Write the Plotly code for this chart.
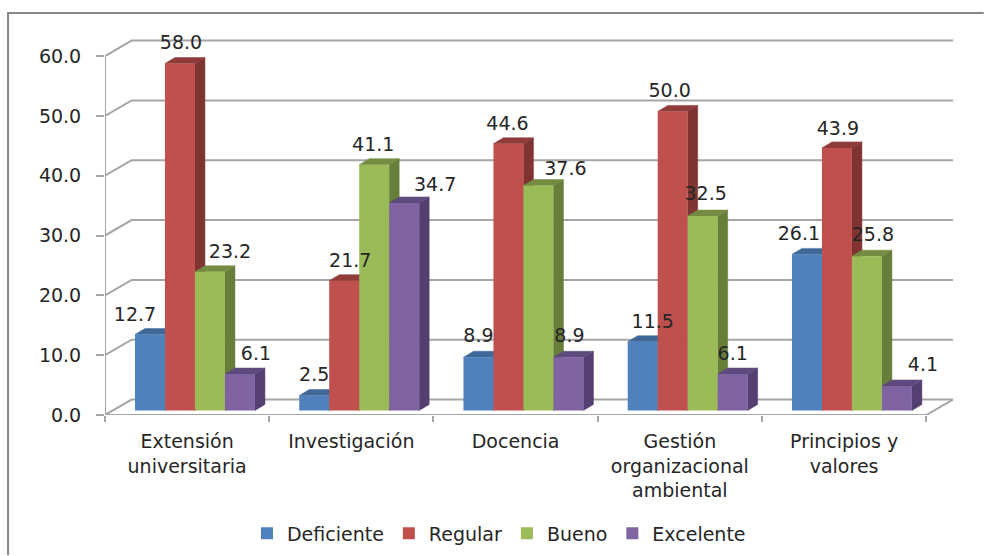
import plotly.graph_objects as go

categories = ["Extensión<br>universitaria", "Investigación", "Docencia",
              "Gestión<br>organizacional<br>ambiental", "Principios y<br>valores"]
deficiente = [12.7, 2.5, 8.9, 11.5, 26.1]
regular = [58.0, 21.7, 44.6, 50.0, 43.9]
bueno = [23.2, 41.1, 37.6, 32.5, 25.8]
excelente = [6.1, 34.7, 8.9, 6.1, 4.1]
series_names = ["Deficiente", "Regular", "Bueno", "Excelente"]
series_values = [deficiente, regular, bueno, excelente]
y_ticks = [0, 10, 20, 30, 40, 50, 60]

front_colors = ["#4F81BD", "#C0504D", "#9BBB59", "#8064A2"]
side_colors = ["#385D8A", "#7F3432", "#677D3A", "#543F70"]
top_colors = ["#3F6898", "#8E3B39", "#748C42", "#5F4A7E"]

# label placement relative to the bar centre / bar top, in pixels
label_dx = [[-15, 1, 20, 16], [0, 6, -1, 31], [0, -1, 27, 1], [10, -3, 3, 0], [-8, 1, 6, 26]]
label_dy = [[18, 19, 18, 19], [19, 18, 18, 17], [20, 18, 15, 20], [18, 19, 21, 19], [19, 18, 20, 20]]

W, H = 984, 556
L, R, T, B = 105.0, 953.3, 33.0, 415.5
BASE = 411.0
PX_X, PX_Y = 164.3, 5.99
xr = [-0.5, (R - L) / PX_X - 0.5]
yr = [(BASE - B) / PX_Y, (BASE - T) / PX_Y]
bar_w = 30 / PX_X
bar_off = (135 - (L + PX_X / 2)) / PX_X
DX, DY = 10 / PX_X, 6 / PX_Y
WALL_X = 26.6 / PX_X
FRONT_Y = yr[0]
BACK_Y = (BASE - 400) / PX_Y
GRID = "#A6A6A6"
TEXT = "#262626"
FONT = "DejaVu Sans"
FS = 19

fig = go.Figure()

# walls, floor and gridlines from the tick values
gx, gy = [], []
for v in y_ticks:
    gx += [xr[0], xr[0] + WALL_X, xr[1], None]
    gy += [v + FRONT_Y, v + BACK_Y, v + BACK_Y, None]
gx += [xr[0], xr[0], None, xr[0], 4.5, xr[1]]
gy += [y_ticks[-1] + FRONT_Y, FRONT_Y, None, FRONT_Y, FRONT_Y, BACK_Y]
fig.add_trace(go.Scatter(x=gx, y=gy, mode="lines", line=dict(color=GRID, width=2),
                         showlegend=False, hoverinfo="skip", cliponaxis=False))

# depth faces
for s, vals in enumerate(series_values):
    sx, sy, tx, ty = [], [], [], []
    for i, v in enumerate(vals):
        x0 = i + bar_off + s * bar_w
        x1 = x0 + bar_w
        sx += [x1, x1 + DX, x1 + DX, x1, x1, None]
        sy += [0, DY, v + DY, v, 0, None]
        tx += [x0, x0 + DX, x1 + DX, x1, x0, None]
        ty += [v, v + DY, v + DY, v, v, None]
    fig.add_trace(go.Scatter(x=sx, y=sy, mode="lines", fill="toself", fillcolor=side_colors[s],
                             line=dict(color=side_colors[s], width=0.5),
                             showlegend=False, hoverinfo="skip", cliponaxis=False))
    fig.add_trace(go.Scatter(x=tx, y=ty, mode="lines", fill="toself", fillcolor=top_colors[s],
                             line=dict(color=top_colors[s], width=0.5),
                             showlegend=False, hoverinfo="skip", cliponaxis=False))

# front faces
for s, vals in enumerate(series_values):
    fig.add_trace(go.Bar(x=list(range(len(vals))), y=vals, name=series_names[s],
                         width=bar_w, offset=bar_off + s * bar_w,
                         marker=dict(color=front_colors[s], line=dict(width=0)),
                         xaxis="x2", yaxis="y2"))

# data labels
for s, vals in enumerate(series_values):
    lx = [i + bar_off + (s + 0.5) * bar_w + label_dx[i][s] / PX_X for i in range(len(vals))]
    ly = [v + label_dy[i][s] / PX_Y for i, v in enumerate(vals)]
    fig.add_trace(go.Scatter(x=lx, y=ly, mode="text", text=[f"{v:.1f}" for v in vals],
                             textposition="middle center",
                             textfont=dict(family=FONT, size=FS, color=TEXT),
                             showlegend=False, cliponaxis=False, xaxis="x2", yaxis="y2"))

boundaries = [i - 0.5 for i in range(len(categories) + 1)]
fig.update_layout(
    width=W, height=H,
    margin=dict(l=L, r=W - R, t=T, b=H - B, pad=0, autoexpand=False),
    paper_bgcolor="white", plot_bgcolor="white",
    barmode="overlay",
    font=dict(family=FONT, size=FS, color=TEXT),
    xaxis=dict(range=xr, tickmode="array", tickvals=list(range(len(categories))),
               ticktext=categories, ticks="outside", ticklen=0, showgrid=False, zeroline=False,
               showline=False,
               minor=dict(tickmode="array", tickvals=boundaries, ticks="outside", ticklen=6,
                          tickwidth=2, tickcolor=GRID, showgrid=False),
               tickfont=dict(family=FONT, size=FS, color=TEXT), ticklabelstandoff=9),
    yaxis=dict(range=yr, tickmode="array", tickvals=[v + FRONT_Y for v in y_ticks],
               ticktext=[f"{v:.1f}" for v in y_ticks], ticks="outside", ticklen=8, tickwidth=2,
               tickcolor=GRID, showgrid=False, zeroline=False, showline=False,
               tickfont=dict(family=FONT, size=FS, color=TEXT), ticklabelstandoff=11),
    xaxis2=dict(range=xr, overlaying="x", visible=False),
    yaxis2=dict(range=yr, overlaying="y", visible=False),
    legend=dict(orientation="h", x=(247 - L) / (R - L), xanchor="left",
                y=(B - 515) / (B - T), yanchor="top",
                font=dict(family=FONT, size=FS, color=TEXT), traceorder="normal",
                bgcolor="rgba(0,0,0,0)"),
    shapes=[dict(type="path", xref="paper", yref="paper", layer="below",
                 path=f"M {(8 - L) / (R - L)} {(B - H) / (B - T)} L {(8 - L) / (R - L)} {(B - 13) / (B - T)} "
                      f"L {(W - L) / (R - L)} {(B - 13) / (B - T)}",
                 line=dict(color="#868686", width=2))],
)

fig.write_html("out.html", config=dict(displayModeBar=False),
               post_script="document.body.style.margin='0';document.body.style.overflow='hidden';")
